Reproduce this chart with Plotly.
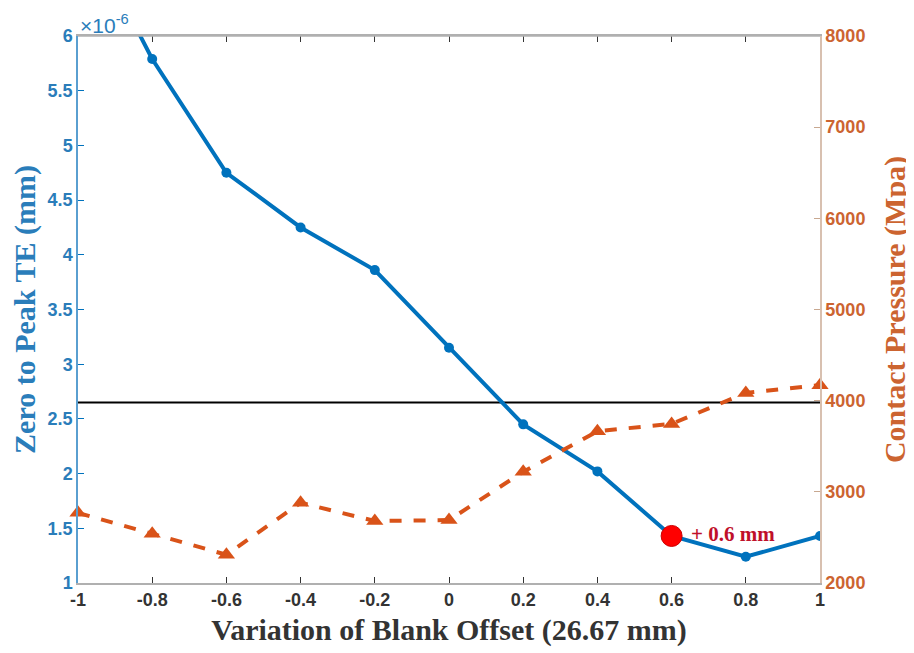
import plotly.graph_objects as go

offset = [-1, -0.8, -0.6, -0.4, -0.2, 0, 0.2, 0.4, 0.6, 0.8, 1]
te_e6 = [7.1, 5.79, 4.75, 4.25, 3.86, 3.15, 2.45, 2.02, 1.43, 1.24, 1.43]
pressure = [2770, 2540, 2310, 2880, 2680, 2690, 3220, 3665, 3745, 4085, 4170]
threshold_e6 = 2.65
best_x = 0.6
best_y = 1.43
x_ticks = [-1, -0.8, -0.6, -0.4, -0.2, 0, 0.2, 0.4, 0.6, 0.8, 1]
x_tick_text = ["-1", "-0.8", "-0.6", "-0.4", "-0.2", "0", "0.2", "0.4", "0.6", "0.8", "1"]

BLUE = "#0072BD"
ORANGE = "#D95319"
BLUE_TXT = "#2A7DBA"
ORANGE_TXT = "#CC6430"
SERIF = "Liberation Serif, Times New Roman, serif"
SANS = "Liberation Sans, Arial, sans-serif"

fig = go.Figure()
fig.add_trace(go.Scatter(x=[-1, 1], y=[threshold_e6, threshold_e6], mode="lines",
                         line=dict(color="black", width=2), showlegend=False, hoverinfo="skip"))
fig.add_trace(go.Scatter(x=offset, y=te_e6, mode="lines+markers",
                         line=dict(color=BLUE, width=4),
                         marker=dict(color=BLUE, size=10, symbol="circle"),
                         showlegend=False, cliponaxis=True))
fig.add_trace(go.Scatter(x=offset, y=pressure, mode="lines+markers", yaxis="y2",
                         line=dict(color=ORANGE, width=4, dash="dash"),
                         marker=dict(color=ORANGE, size=15, symbol="triangle-up"),
                         showlegend=False, cliponaxis=False))
fig.add_trace(go.Scatter(x=[best_x], y=[best_y], mode="markers+text",
                         marker=dict(color="#FF0000", size=21, line=dict(color="#CC0000", width=1)),
                         text=[" + 0.6 mm"], textposition="middle right",
                         textfont=dict(family=SERIF, size=21, color="#C0102A", weight="bold"),
                         showlegend=False, cliponaxis=False))

fig.update_layout(
    width=914, height=653,
    margin=dict(l=70, r=102, t=28, b=78),
    plot_bgcolor="white", paper_bgcolor="white",
    xaxis=dict(range=[-1, 1], tickvals=x_ticks, ticktext=x_tick_text, automargin=False,
               ticks="inside", ticklen=6, tickcolor="#333333", mirror="ticks",
               showline=True, linecolor="#B0B0B0", linewidth=1.5, showgrid=False, zeroline=False,
               tickfont=dict(family=SANS, size=18, color="#333333", weight="bold"),
               title=dict(text="Variation of Blank Offset (26.67 mm)",
                          font=dict(family=SERIF, size=30, color="#333333", weight="bold"), standoff=10)),
    yaxis=dict(range=[1, 6], dtick=0.5, ticks="inside", ticklen=6, tickcolor=BLUE, automargin=False,
               showline=True, linecolor="#5A9FD0", linewidth=1.5, showgrid=False, zeroline=False,
               tickfont=dict(family=SANS, size=18, color=BLUE_TXT, weight="bold"),
               title=dict(text="Zero to Peak TE (mm)",
                          font=dict(family=SERIF, size=30, color=BLUE_TXT, weight="bold"), standoff=13)),
    yaxis2=dict(range=[2000, 8000], dtick=1000, overlaying="y", side="right", automargin=False,
                ticks="inside", ticklen=6, tickcolor="#C8A890",
                showline=True, linecolor="#D8C0B0", linewidth=1.5, showgrid=False, zeroline=False,
                tickfont=dict(family=SANS, size=18, color=ORANGE_TXT, weight="bold"),
                title=dict(text="Contact Pressure (Mpa)",
                           font=dict(family=SERIF, size=30, color=ORANGE_TXT, weight="bold"), standoff=20)),
    shapes=[dict(type="line", xref="paper", yref="paper", x0=0, x1=1, y0=1, y1=1,
                 line=dict(color="#B0B0B0", width=1.5))],
    annotations=[dict(text="\u00d710<sup>-6</sup>", xref="paper", yref="paper", x=0, y=1,
                      xanchor="left", yanchor="bottom", showarrow=False, yshift=-3,
                      font=dict(family=SANS, size=21, color=BLUE_TXT))],
)

fig.write_html("out.html")
